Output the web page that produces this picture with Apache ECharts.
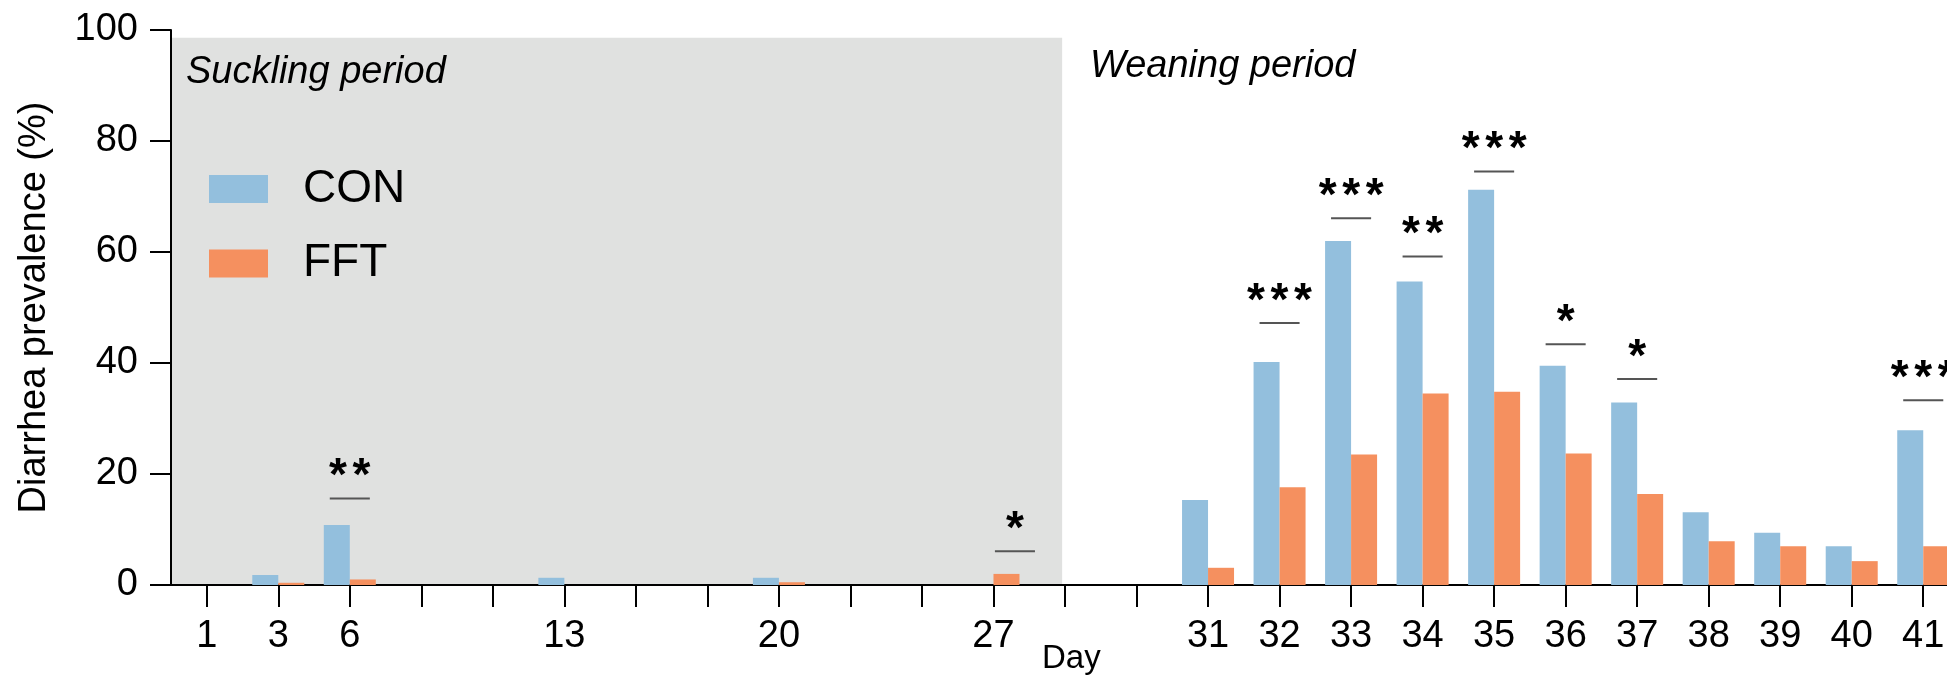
<!DOCTYPE html>
<html>
<head>
<meta charset="utf-8">
<script src="https://cdn.jsdelivr.net/npm/echarts@6/dist/echarts.min.js"></script>
<style>
html,body{margin:0;padding:0;background:#fff;overflow:hidden;width:1947px;height:677px;}
#chart{width:1959px;height:677px;}
</style>
</head>
<body>
<div id="chart"></div>
<script>
const categories = ['1','3','6','','','13','','','20','','','27','','','31','32','33','34','35','36','37','38','39','40','41'];
const conValues = [0,1.8,10.8,0,0,1.3,0,0,1.3,0,0,0,0,0,15.3,40.2,62.0,54.7,71.2,39.5,32.9,13.1,9.4,7.0,27.9];
const fftValues = [0,0.4,1.0,0,0,0,0,0,0.5,0,0,2.0,0,0,3.1,17.6,23.5,34.5,34.8,23.7,16.4,7.9,7.0,4.3,7.0];
const sigPos = [2, 11.3, 15, 16, 17, 18, 19, 20, 24];
const sigLevel = [15.6, 6.1, 47.2, 66.1, 59.2, 74.5, 43.4, 37.1, 33.3];
const sigStars = ['**','*','***','***','**','***','*','*','***'];
const sucklingEndIndex = 12;
const shadeTop = 98.6;

const FONT = '"Liberation Sans", Arial, Helvetica, sans-serif';
const chart = echarts.init(document.getElementById('chart'));

const sigData = sigPos.map((p, i) => [Math.floor(p), sigLevel[i]]);

const option = {
  animation: false,
  backgroundColor: '#ffffff',
  textStyle: { fontFamily: FONT },
  grid: { left: 171, top: 30, right: 0, bottom: 92, containLabel: false },
  legend: {
    orient: 'vertical',
    left: 204,
    top: 161,
    itemWidth: 59,
    itemHeight: 28,
    itemGap: 28.5,
    icon: 'rect',
    data: ['CON', 'FFT'],
    textStyle: { fontFamily: FONT, fontSize: 46, color: '#000', lineHeight: 46, padding: [0, 0, 0, 30] }
  },
  xAxis: {
    type: 'category',
    data: categories,
    axisLine: { lineStyle: { color: '#000', width: 2 } },
    axisTick: { show: true, length: 22, alignWithLabel: true, interval: 0, lineStyle: { color: '#000', width: 2 } },
    axisLabel: { interval: 0, fontFamily: FONT, fontSize: 38, color: '#000', margin: 33 },
    splitLine: { show: false }
  },
  yAxis: {
    type: 'value',
    min: 0,
    max: 100,
    interval: 20,
    name: 'Diarrhea prevalence (%)',
    nameLocation: 'middle',
    nameRotate: 90,
    nameGap: 117,
    nameTextStyle: { fontFamily: FONT, fontSize: 38, color: '#000' },
    axisLine: { show: true, lineStyle: { color: '#000', width: 2 } },
    axisTick: { show: true, length: 21, lineStyle: { color: '#000', width: 2 } },
    axisLabel: { fontFamily: FONT, fontSize: 38, color: '#000', margin: 33 },
    splitLine: { show: false }
  },
  series: [
    {
      name: 'CON', type: 'bar', data: conValues, barWidth: 26, barGap: '0%',
      itemStyle: { color: '#93bfdd' }, z: 3
    },
    {
      name: 'FFT', type: 'bar', data: fftValues, barWidth: 26, barGap: '0%',
      itemStyle: { color: '#f5905f' }, z: 3
    },
    {
      name: 'sig', type: 'custom', data: sigData, z: 4,
      encode: { x: 0, y: 1 },
      renderItem: function (params, api) {
        const i = params.dataIndex;
        const pos = sigPos[i];
        const base = Math.floor(pos);
        const band = api.size([1, 0])[0];
        const pt = api.coord([base, sigLevel[i]]);
        const cx = pt[0] + (pos - base) * band;
        const half = band * 0.28;
        const n = sigStars[i].length;
        const pitch = 23.5;
        const children = [
          { type: 'line', shape: { x1: cx - half, y1: pt[1], x2: cx + half, y2: pt[1] },
            style: { stroke: '#555', lineWidth: 2 } }
        ];
        for (let k = 0; k < n; k++) {
          children.push({
            type: 'text', x: cx + (k - (n - 1) / 2) * pitch, y: pt[1] - 21,
            style: { text: '*', font: 'bold 46px ' + FONT, fill: '#000', align: 'center', verticalAlign: 'middle' }
          });
        }
        return { type: 'group', children: children };
      }
    }
  ]
};
chart.setOption(option);

function addDecor() {
  const x0 = chart.convertToPixel({ xAxisIndex: 0 }, 0);
  const x1 = chart.convertToPixel({ xAxisIndex: 0 }, 1);
  const band = x1 - x0;
  const left = x0 - band / 2;
  const right = chart.convertToPixel({ xAxisIndex: 0 }, sucklingEndIndex) - band * 0.04;
  const yTop = chart.convertToPixel({ yAxisIndex: 0 }, shadeTop);
  const yBottom = chart.convertToPixel({ yAxisIndex: 0 }, 0);
  chart.setOption({
    graphic: [
      { type: 'rect', z: -10, silent: true,
        shape: { x: left + 1, y: yTop, width: right - left - 1, height: yBottom - yTop },
        style: { fill: '#e0e1e0' } },
      { type: 'text', left: 186, top: 53, z: 10,
        style: { text: 'Suckling period', font: 'italic 38px ' + FONT, fill: '#000' } },
      { type: 'text', left: 1090, top: 47, z: 10,
        style: { text: 'Weaning period', font: 'italic 38px ' + FONT, fill: '#000' } },
      { type: 'text', left: 1042, top: 642, z: 10,
        style: { text: 'Day', font: '33px ' + FONT, fill: '#000' } }
    ]
  });
}
addDecor();
</script>
</body>
</html>
